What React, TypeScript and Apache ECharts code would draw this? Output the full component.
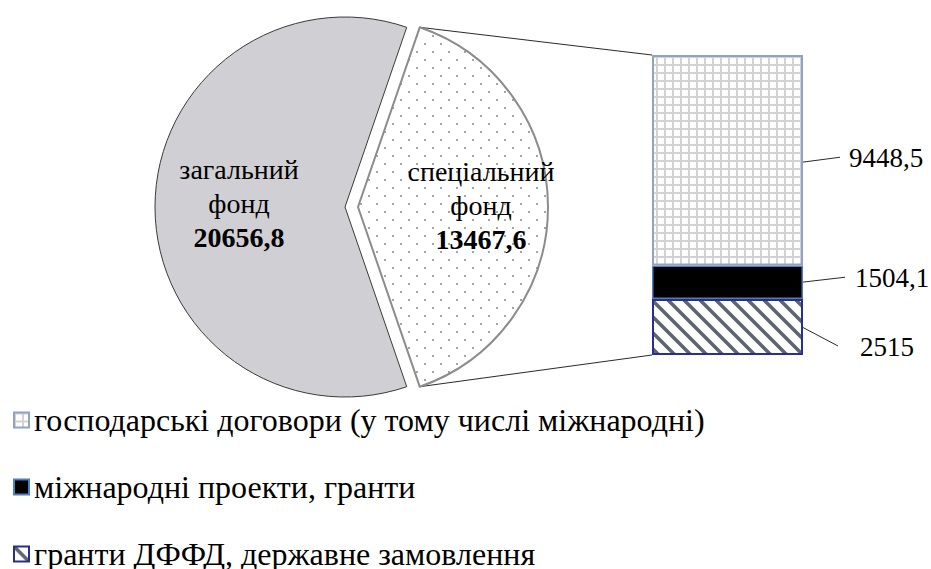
import { useEffect, useRef } from "react";
import * as echarts from "echarts";

// Budget funds (pie)
const fundNames = ["спеціальний фонд", "загальний фонд"];
const fundValues = [13467.6, 20656.8];

// Breakdown of the special fund (stacked column), bottom to top
const sourceNames = [
  "гранти ДФФД, державне замовлення",
  "міжнародні проекти, гранти",
  "господарські договори (у тому числі міжнародні)",
];
const sourceValues = [2515, 1504.1, 9448.5];
const legendOrder = [sourceNames[2], sourceNames[1], sourceNames[0]];

const FONT = "Liberation Serif";
const fmt = (v: number) => String(v).replace(".", ",");

// layout
const PIE_CX = 345;
const PIE_CY = 207;
const PIE_R = 190;
const EXPLODE = 13;
const BAR_W = 151;
const BAR_H = 300;
const BAR_LEFT = 652;
const BAR_TOP = 55;

// label placement for the column segments (bottom to top)
const segLabel = [
  { dx: 57, dy: 20, lineEnd: 838 },
  { dx: 52, dy: -4, lineEnd: 845 },
  { dx: 46, dy: -2, lineEnd: 840 },
];

function svgPattern(size: number, body: string) {
  const svg =
    `<svg xmlns="http://www.w3.org/2000/svg" width="${size}" height="${size}">` +
    `<rect width="${size}" height="${size}" fill="#ffffff"/>${body}</svg>`;
  return {
    image: "data:image/svg+xml;charset=utf-8," + encodeURIComponent(svg),
    repeat: "repeat",
    imageWidth: size,
    imageHeight: size,
  } as any;
}

const dots = svgPattern(
  16,
  `<circle cx="4" cy="4" r="0.9" fill="#7a7a7a"/><circle cx="12" cy="12" r="0.9" fill="#7a7a7a"/>`
);
const gridPat = svgPattern(
  8,
  `<rect x="0" y="0" width="8" height="2" fill="#d2d2d2"/><rect x="0" y="0" width="2" height="8" fill="#d2d2d2"/>`
);
const hatch = svgPattern(
  16,
  `<path d="M-4,-4L20,20M-20,-4L4,20M12,-4L36,20" stroke="#5d6670" stroke-width="3.6" fill="none"/>`
);

export default function App() {
  const ref = useRef<HTMLDivElement>(null);

  useEffect(() => {
    if (!ref.current) return;
    const chart = echarts.init(ref.current, null, { renderer: "svg" });

    const segStyles = [
      { color: hatch, borderColor: "#2b2f8c", borderWidth: 2 },
      { color: "#000000", borderColor: "#4a7fc0", borderWidth: 1.5 },
      { color: gridPat, borderColor: "#8fa3c4", borderWidth: 2 },
    ];

    const fundTotal = fundValues[0] + fundValues[1];
    const halfAngle = (fundValues[0] / fundTotal) * 180;
    const sourceTotal = sourceValues.reduce((a, b) => a + b, 0);

    chart.setOption({
      animation: false,
      legend: {
        orient: "vertical",
        left: 13,
        top: 404,
        height: 300,
        padding: 0,
        itemWidth: 15,
        itemHeight: 15,
        itemGap: 35,
        icon: "rect",
        selectedMode: false,
        data: legendOrder,
        textStyle: { fontSize: 32, fontFamily: FONT, color: "#000", lineHeight: 26 },
      },
      grid: { left: BAR_LEFT, top: BAR_TOP, width: BAR_W, height: BAR_H },
      xAxis: { type: "category", data: ["спеціальний фонд"], show: false },
      yAxis: { type: "value", min: 0, max: sourceTotal, show: false },
      series: [
        ...sourceNames.map((name, i) => ({
          type: "bar",
          name,
          stack: "src",
          barWidth: "100%",
          silent: true,
          data: [sourceValues[i]],
          itemStyle: segStyles[i],
          label: {
            show: true,
            position: "right",
            distance: 0,
            offset: [segLabel[i].dx, segLabel[i].dy],
            formatter: (p: any) => fmt(p.value),
            fontSize: 27,
            fontFamily: FONT,
            color: "#000",
          },
        })),
        {
          type: "pie",
          center: [PIE_CX, PIE_CY],
          radius: PIE_R,
          startAngle: halfAngle,
          clockwise: true,
          selectedMode: "single",
          selectedOffset: EXPLODE,
          silent: true,
          avoidLabelOverlap: false,
          labelLine: { show: false },
          label: {
            show: true,
            position: "inside",
            fontFamily: FONT,
            formatter: (p: any) =>
              p.name
                .split(" ")
                .map((s: string) => `{n|${s}}`)
                .join("\n") + `\n{b|${fmt(p.value)}}`,
            rich: {
              n: { fontSize: 28, fontFamily: FONT, color: "#000", lineHeight: 34 },
              b: { fontSize: 28, fontFamily: FONT, color: "#000", lineHeight: 34, fontWeight: "bold" },
            },
          },
          labelLayout: (p: any) => ({ dx: p.dataIndex === 0 ? 25 : -4, dy: -2 }),
          data: [
            {
              name: fundNames[0],
              value: fundValues[0],
              selected: true,
              itemStyle: { color: dots, borderColor: "#8c8c8c", borderWidth: 2 },
            },
            {
              name: fundNames[1],
              value: fundValues[1],
              itemStyle: { color: "#d0cfd3", borderColor: "#3a3a3a", borderWidth: 1 },
            },
          ],
        },
      ],
    });

    // connectors from the exploded slice to the column, and label leaders
    const rad = (halfAngle * Math.PI) / 180;
    const tipX = PIE_CX + EXPLODE + PIE_R * Math.cos(rad);
    const tipTop = PIE_CY - PIE_R * Math.sin(rad);
    const tipBottom = PIE_CY + PIE_R * Math.sin(rad);
    const colTop = chart.convertToPixel({ gridIndex: 0 }, [0, sourceTotal]) as number[];
    const colBottom = chart.convertToPixel({ gridIndex: 0 }, [0, 0]) as number[];
    const colLeft = colTop[0] - BAR_W / 2;
    const colRight = colTop[0] + BAR_W / 2;

    const lineStyle = { stroke: "#2a2a2a", lineWidth: 1 };
    const graphics: any[] = [
      { type: "line", shape: { x1: tipX, y1: tipTop, x2: colLeft, y2: colTop[1] }, style: lineStyle },
      { type: "line", shape: { x1: tipX, y1: tipBottom, x2: colLeft, y2: colBottom[1] }, style: lineStyle },
    ];
    let cum = 0;
    sourceValues.forEach((v, i) => {
      const mid = chart.convertToPixel({ gridIndex: 0 }, [0, cum + v / 2]) as number[];
      cum += v;
      graphics.push({
        type: "line",
        shape: {
          x1: colRight - 1,
          y1: mid[1] + (i === 2 ? 2 : 0),
          x2: segLabel[i].lineEnd,
          y2: mid[1] + segLabel[i].dy - 1,
        },
        style: lineStyle,
      });
    });
    chart.setOption({ graphic: graphics });

    return () => chart.dispose();
  }, []);

  return (
    <div
      ref={ref}
      style={{ position: "fixed", left: 0, top: 0, width: 931, height: 569, background: "#fff" }}
    />
  );
}
